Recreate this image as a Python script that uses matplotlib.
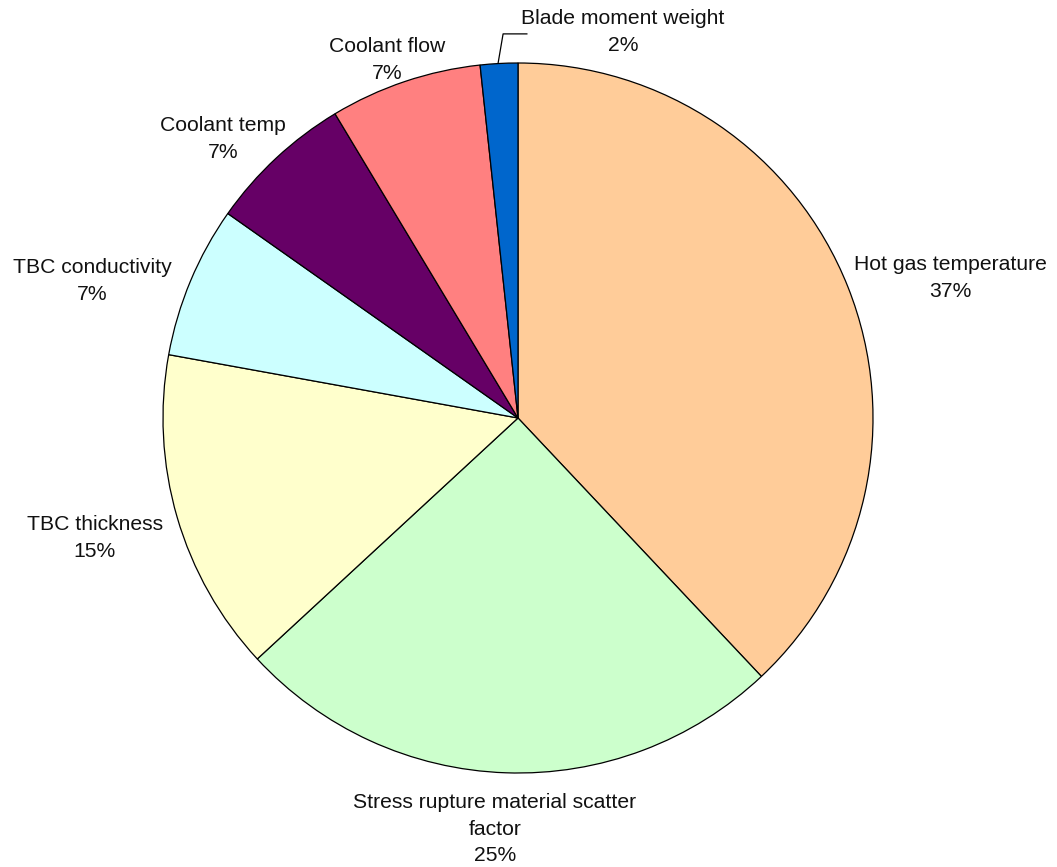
import matplotlib.pyplot as plt

# slice data, clockwise from 12 o'clock
names = ["Hot gas temperature", "Stress rupture material scatter\nfactor",
         "TBC thickness", "TBC conductivity", "Coolant temp",
         "Coolant flow", "Blade moment weight"]
shares = [37.9, 25.1, 14.7, 6.9, 6.6, 6.9, 1.7]
pct_text = ["37%", "25%", "15%", "7%", "7%", "7%", "2%"]
colors = ["#FFCC99", "#CCFFCC", "#FFFFCC", "#CCFFFF", "#660066", "#FF8080", "#0066CC"]

# label anchors in pie-radius units (layout only)
label_pos = [(1.217, 0.394), (-0.065, -1.158), (-1.192, -0.338), (-1.20, 0.386),
             (-0.831, 0.786), (-0.369, 1.008), (0.296, 1.087)]

fig = plt.figure(figsize=(10.57, 8.67), dpi=100)
ax = fig.add_axes([0, 0, 1, 1])

ax.pie(shares, colors=colors, startangle=90, counterclock=False, radius=1.0,
       wedgeprops=dict(edgecolor="black", linewidth=0.9))

ax.set_xlim(-518 / 355, (1057 - 518) / 355)
ax.set_ylim(-(867 - 418) / 355, 418 / 355)
ax.set_aspect("auto")
ax.axis("off")

for name, pct, (x, y) in zip(names, pct_text, label_pos):
    ax.text(x, y, f"{name}\n{pct}", ha="center", va="center",
            fontsize=15.2, family="Liberation Sans", color="#111111",
            linespacing=1.5)

# leader line for the small slice
ax.plot([-0.056, -0.042, 0.025], [1.0, 1.082, 1.082], color="black", lw=0.9)

fig.savefig("out.png", dpi=100, facecolor="white")
